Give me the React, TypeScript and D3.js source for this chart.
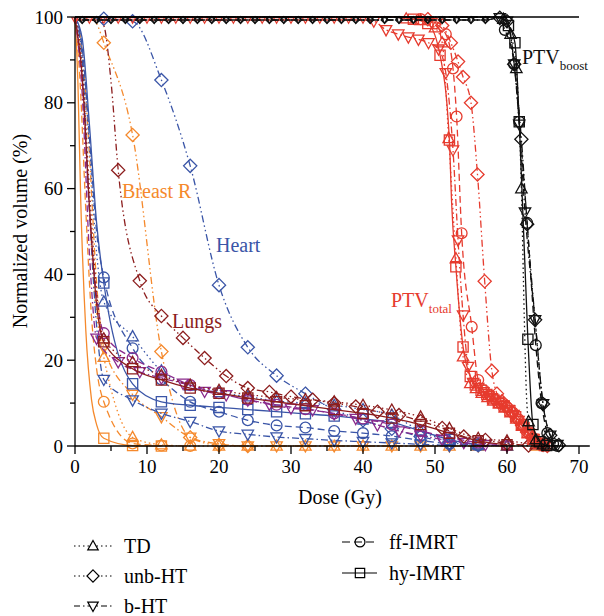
import React from "react";
import * as d3 from "d3";

type P = [number, number];

// ---------- axes ----------
const xTicks = [0, 10, 20, 30, 40, 50, 60, 70];
const xMinor = [5, 15, 25, 35, 45, 55, 65];
const yTicks = [0, 20, 40, 60, 80, 100];
const yMinor = [10, 30, 50, 70, 90];

// ---------- plateau marker doses (PTV curves near 100 %) ----------
const ptvTotalPlateau = [0, 2, 4, 6, 8, 10, 12, 14, 16, 18, 20, 22, 24, 26, 28, 30, 32, 34, 36, 38, 40];
const ptvBoostPlateau = [1, 3, 5, 7, 9, 11, 13, 15, 17, 19, 21, 23, 25, 27, 29, 31, 33, 35, 37, 39, 41, 43, 45, 47, 49, 51, 53, 55, 57];
const plateauVolume = 99.3;

// ---------- Breast R (orange) ----------
const breastTDLine: P[] = [[0, 100], [1, 88], [1.8, 62], [2.6, 38], [3.3, 27]];
const breastTDMarks: P[] = [[4, 20.7], [8, 2], [12, 0.3], [16, 0], [20, 0], [24, 0], [28, 0], [32, 0], [36, 0], [40, 0], [44, 0], [48, 0], [52, 0], [56, 0], [60, 0], [64, 0]];
const breastUnbLine: P[] = [[0, 100], [2, 100], [3, 98.5]];
const breastUnbMarks: P[] = [[4, 94], [8, 72.5], [12, 22], [16, 2], [20, 0.2], [24, 0]];
const breastBLine: P[] = [[0, 100], [1, 92], [2, 68], [3, 38]];
const breastBMarks: P[] = [[4, 23], [8, 12], [12, 6.8], [16, 2], [20, 0.5], [24, 0], [28, 0], [32, 0], [36, 0], [40, 0], [44, 0], [48, 0], [52, 0], [56, 0], [60, 0]];
const breastFFLine: P[] = [[0, 100], [0.7, 85], [1.5, 55], [2.3, 30], [3, 18]];
const breastFFMarks: P[] = [[4, 10.3], [8, 0.6], [12, 0.1], [16, 0]];
const breastHyLine: P[] = [[0, 100], [0.4, 85], [0.8, 57], [1.5, 27], [2.3, 10.7], [3, 5]];
const breastHyMarks: P[] = [[4, 1.8], [8, 0.1], [12, 0]];

// ---------- Heart (blue) ----------
const heartTDLine: P[] = [[0, 100], [1, 92], [2, 70], [3, 45]];
const heartTDMarks: P[] = [[4, 33.6], [8, 25.5], [12, 17.5], [16, 14], [20, 12.5], [24, 11.5], [28, 10.5], [32, 10], [36, 9.5], [40, 8.5], [44, 7.2], [48, 3.5], [52, 1.2], [56, 0.3], [60, 0]];
const heartUnbLine: P[] = [[0, 100], [2, 100]];
const heartUnbMarks: P[] = [[4, 99.6], [8, 99], [12, 85.3], [16, 65.3], [20, 37.5], [24, 23], [28, 16.4], [32, 12.2], [36, 8.5], [40, 6], [44, 4], [48, 2.2], [52, 0.8], [56, 0.2]];
const heartBLine: P[] = [[0, 100], [1, 90], [2, 55], [3, 28]];
const heartBMarks: P[] = [[4, 15.5], [8, 10.7], [12, 7.6], [16, 5.7], [20, 3.5], [24, 2.7], [28, 2.1], [32, 1.7], [36, 1.3], [40, 1], [44, 0.7], [48, 0.4], [52, 0.1]];
const heartFFLine: P[] = [[0, 100], [1, 93], [2, 72], [3, 50]];
const heartFFMarks: P[] = [[4, 39.3], [8, 22.8], [12, 15.5], [16, 10.3], [20, 8], [24, 6], [28, 4.8], [32, 4.3], [36, 3.5], [40, 3], [44, 2.3], [48, 1.3], [52, 0.5], [56, 0.1]];
const heartHyLine: P[] = [[0, 100], [1, 95], [2, 75], [3, 52]];
const heartHyMarks: P[] = [[4, 38], [8, 14.5], [12, 10.3], [16, 9.5], [20, 9], [24, 8.5], [28, 8], [32, 7.5], [36, 7], [40, 6.3], [44, 5.5], [48, 3.5], [52, 1.5], [56, 0.3]];

// ---------- Lungs (dark red) ----------
const lungTDLine: P[] = [[0, 100], [1, 88], [2, 60], [3, 36]];
const lungTDMarks: P[] = [[4, 25], [8, 19.5], [12, 16.5], [16, 14.2], [20, 13], [24, 12], [28, 11.3], [32, 10.8], [36, 10.3], [40, 9.5], [44, 8.4], [48, 6.8], [52, 4.1], [56, 1.8], [60, 1.2], [64, 0.3]];
const lungUnbLine: P[] = [[0, 100], [3, 100], [4, 98], [5, 85]];
const lungUnbMarks: P[] = [[6, 64.3], [9, 38.5], [12, 30.3], [15, 25.2], [18, 20.5], [21, 16.3], [24, 13.5], [27, 12.6], [30, 11.5], [33, 10.8], [36, 10], [39, 9.2], [42, 8], [45, 7.2], [48, 5.8], [51, 4.2], [54, 2.2], [57, 1.4], [60, 0.6], [63, 0.1]];
const lungHyLine: P[] = [[0, 100], [1, 86], [2, 56], [3, 33]];
const lungHyMarks: P[] = [[4, 24.3], [8, 18], [12, 15.4], [16, 13.5], [20, 12.3], [24, 11.2], [28, 10.3], [32, 9.4], [36, 8.5], [40, 7.6], [44, 6.5], [48, 5], [52, 3], [56, 1.2], [60, 0.3]];

// ---------- Lungs, second set (purple) ----------
const lung2BLine: P[] = [[0, 100], [1, 82], [2, 45]];
const lung2BMarks: P[] = [[3, 25.1], [6, 19.6], [9, 17.3], [12, 15.8], [15, 14.6], [18, 12.7], [21, 11.9], [24, 10.7], [27, 9.7], [30, 8.8], [33, 8.4], [36, 7.5], [39, 6.4], [42, 4.9], [45, 3.5], [48, 2.5], [51, 1.5], [54, 0.8], [57, 0.3], [60, 0]];
const lung2FFLine: P[] = [[0, 100], [1, 85], [2, 55], [3, 35]];
const lung2FFMarks: P[] = [[4, 26.3], [8, 20.5], [12, 17.3], [16, 14.2], [20, 12.3], [24, 10.8], [28, 9.6], [32, 8.6], [36, 7.6], [40, 6.4], [44, 5], [48, 3.5], [52, 2], [56, 0.8], [60, 0.2]];

// ---------- PTV total (red) ----------
const ptvTTDLine: P[] = [[0, 100], [44, 100]];
const ptvTTDMarks: P[] = [[46, 99.6], [48, 99.2], [50, 97.5], [51, 94], [51.9, 71.7], [52.9, 43.7], [53.9, 20.8], [54.9, 14.6], [55.7, 13.4], [56.5, 12.3], [57.3, 11.3], [58.1, 10.5], [58.9, 9.8], [59.7, 8.9], [60.5, 7.8], [61.3, 6.3], [62.1, 4.6], [62.9, 2.9], [63.7, 1.5], [64.5, 0.5], [65.3, 0.1]];
const ptvTUnbLine: P[] = [[0, 100], [46, 100]];
const ptvTUnbMarks: P[] = [[49, 99.5], [51, 98], [52.2, 94], [53.2, 89.6], [53.9, 86], [55, 80], [55.9, 63.3], [56.9, 38.4], [57.9, 17.5], [58.6, 12.2], [59.3, 10.4], [60, 9.2], [60.7, 7.8], [61.4, 6.3], [62.1, 4.8], [62.8, 3.2], [63.5, 1.9], [64.2, 0.9], [64.9, 0.3], [65.6, 0]];
const ptvTBLine: P[] = [];
const ptvTBMarks: P[] = [[41.5, 99], [43.2, 97], [44.9, 96], [46.3, 95.3], [47.7, 94.8], [49.1, 94], [50.5, 92.5], [51.5, 87], [52.5, 69], [53.2, 48], [53.9, 30.5], [54.6, 18.5], [55.3, 14.8], [56, 13.6], [56.7, 12.6], [57.4, 11.7], [58.1, 10.9], [58.8, 10.1], [59.5, 9.4], [60.2, 8.5], [60.9, 7.3], [61.6, 5.9], [62.3, 4.4], [63, 3], [63.7, 1.7], [64.4, 0.7], [65.1, 0.2]];
const ptvTFFLine: P[] = [[0, 100], [44, 100]];
const ptvTFFMarks: P[] = [[48, 99.5], [50, 98.5], [51.5, 96], [52.5, 88], [53, 76.8], [53.7, 49.6], [55.1, 27.8], [56, 15.4], [56.8, 13], [57.6, 11.8], [58.4, 10.8], [59.2, 9.9], [60, 9], [60.8, 7.8], [61.6, 6.2], [62.4, 4.4], [63.2, 2.8], [64, 1.4], [64.8, 0.5], [65.6, 0.1]];
const ptvTHyLine: P[] = [[0, 100], [44, 100], [52.3, 57]];
const ptvTHyMarks: P[] = [[47, 99.5], [49, 98.5], [50.7, 91.1], [52, 71.3], [52.9, 41.8], [53.9, 23.1], [54.9, 16.2], [55.6, 14.2], [56.4, 13], [57.2, 12], [58, 11], [58.8, 10.2], [59.6, 9.3], [60.4, 8.2], [61.2, 6.8], [62, 5], [62.8, 3.2], [63.6, 1.6], [64.4, 0.6], [65.2, 0.1]];

// ---------- PTV boost (black) ----------
const ptvBTDLine: P[] = [[0, 100], [58, 100], [62.4, 30], [62.7, 12]];
const ptvBTDMarks: P[] = [[59.5, 99.5], [60.5, 96], [61.3, 88], [62, 60], [63, 5.7], [64, 1.5], [65, 0.3], [66, 0]];
const ptvBUnbLine: P[] = [];
const ptvBUnbMarks: P[] = [[59, 99.8], [60, 99], [61, 89], [62, 71.5], [62.8, 51.7], [63.9, 29.4], [65, 9.8], [66, 2.5], [67.2, 0.2]];
const ptvBBLine: P[] = [];
const ptvBBMarks: P[] = [[59, 99.8], [60, 99], [61, 89], [61.7, 75], [62.5, 54.5], [63.9, 29.4], [65, 9.8], [66, 2.5], [67, 0.3]];
const ptvBFFLine: P[] = [[0, 100], [58.5, 100]];
const ptvBFFMarks: P[] = [[59.7, 97], [61, 89], [61.7, 75.6], [62.8, 52], [64, 23.5], [64.8, 10], [65.6, 3], [66.4, 0.5], [67, 0]];
const ptvBHyLine: P[] = [[0, 100], [59, 100]];
const ptvBHyMarks: P[] = [[60.2, 98], [61.1, 94], [61.7, 75.6], [62.9, 24.9], [63.6, 5], [64.5, 1], [65.5, 0.1]];

// ---------- styles ----------
type Tech = "TD" | "unb" | "b" | "ff" | "hy";
const techStyle: Record<Tech, { dash: string | undefined; legendDash: string | undefined; shape: string; name: string }> = {
  TD: { dash: "1.5,3", legendDash: "1.5,3", shape: "tri", name: "TD" },
  unb: { dash: "7,3,1.5,3,1.5,3", legendDash: "1.5,3", shape: "diamond", name: "unb-HT" },
  b: { dash: "7,3,1.5,3", legendDash: "6,3,1.5,3", shape: "triDown", name: "b-HT" },
  ff: { dash: "7,4", legendDash: "8,4", shape: "circle", name: "ff-IMRT" },
  hy: { dash: undefined, legendDash: undefined, shape: "square", name: "hy-IMRT" },
};

const ORANGE = "#F5892C";
const BLUE = "#3A55A7";
const DARKRED = "#8C1D1D";
const PURPLE = "#8A2A8C";
const RED = "#E63B2E";
const BLACK = "#111111";

interface Series { color: string; tech: Tech; line: P[]; marks: P[]; top?: P[] }

const plateau = (ds: number[]): P[] => ds.map((d) => [d, plateauVolume] as P);

const series: Series[] = [
  { color: ORANGE, tech: "TD", line: breastTDLine, marks: breastTDMarks },
  { color: ORANGE, tech: "unb", line: breastUnbLine, marks: breastUnbMarks },
  { color: ORANGE, tech: "b", line: breastBLine, marks: breastBMarks },
  { color: ORANGE, tech: "ff", line: breastFFLine, marks: breastFFMarks },
  { color: ORANGE, tech: "hy", line: breastHyLine, marks: breastHyMarks },
  { color: BLUE, tech: "TD", line: heartTDLine, marks: heartTDMarks },
  { color: BLUE, tech: "unb", line: heartUnbLine, marks: heartUnbMarks },
  { color: BLUE, tech: "b", line: heartBLine, marks: heartBMarks },
  { color: BLUE, tech: "ff", line: heartFFLine, marks: heartFFMarks },
  { color: BLUE, tech: "hy", line: heartHyLine, marks: heartHyMarks },
  { color: PURPLE, tech: "b", line: lung2BLine, marks: lung2BMarks },
  { color: PURPLE, tech: "ff", line: lung2FFLine, marks: lung2FFMarks },
  { color: DARKRED, tech: "TD", line: lungTDLine, marks: lungTDMarks },
  { color: DARKRED, tech: "unb", line: lungUnbLine, marks: lungUnbMarks },
  { color: DARKRED, tech: "hy", line: lungHyLine, marks: lungHyMarks },
  { color: RED, tech: "TD", line: ptvTTDLine, marks: ptvTTDMarks },
  { color: RED, tech: "unb", line: ptvTUnbLine, marks: ptvTUnbMarks },
  { color: RED, tech: "b", line: ptvTBLine, marks: ptvTBMarks, top: plateau(ptvTotalPlateau) },
  { color: RED, tech: "ff", line: ptvTFFLine, marks: ptvTFFMarks },
  { color: RED, tech: "hy", line: ptvTHyLine, marks: ptvTHyMarks },
  { color: BLACK, tech: "TD", line: ptvBTDLine, marks: ptvBTDMarks },
  { color: BLACK, tech: "unb", line: ptvBUnbLine, marks: ptvBUnbMarks, top: plateau(ptvBoostPlateau) },
  { color: BLACK, tech: "b", line: ptvBBLine, marks: ptvBBMarks, top: plateau(ptvBoostPlateau) },
  { color: BLACK, tech: "ff", line: ptvBFFLine, marks: ptvBFFMarks },
  { color: BLACK, tech: "hy", line: ptvBHyLine, marks: ptvBHyMarks },
];

const legendLeft: Tech[] = ["TD", "unb", "b"];
const legendRight: Tech[] = ["ff", "hy"];

// ---------- layout ----------
const W = 604;
const H = 616;
const X0 = 75;
const PXPERGY = 7.2;
const XMAX = 71.5;
const Y0 = 446;
const Y100 = 17;
const FONT = "'Liberation Serif', 'Times New Roman', serif";

function shapePath(shape: string, s: number): string {
  switch (shape) {
    case "tri":
      return `M0,${-s}L${s * 0.95},${s * 0.7}L${-s * 0.95},${s * 0.7}Z`;
    case "triDown":
      return `M0,${s}L${s * 0.95},${-s * 0.7}L${-s * 0.95},${-s * 0.7}Z`;
    case "diamond":
      return `M0,${-s * 1.1}L${s * 1.1},0L0,${s * 1.1}L${-s * 1.1},0Z`;
    case "square":
      return `M${-s * 0.85},${-s * 0.85}H${s * 0.85}V${s * 0.85}H${-s * 0.85}Z`;
    default:
      return d3.arc()({ innerRadius: 0, outerRadius: s * 0.9, startAngle: 0, endAngle: 2 * Math.PI }) || "";
  }
}

export default function App() {
  const x = d3.scaleLinear().domain([0, XMAX]).range([X0, X0 + XMAX * PXPERGY]);
  const y = d3.scaleLinear().domain([0, 100]).range([Y0, Y100]);
  const lineGen = d3
    .line<P>()
    .x((d) => x(d[0]))
    .y((d) => y(d[1]))
    .curve(d3.curveMonotoneX);

  const xEnd = x(XMAX);

  return (
    <svg width={W} height={H} style={{ display: "block", position: "absolute", left: 0, top: 0 }} fontFamily={FONT}>
      <rect width={W} height={H} fill="#fff" />
      {/* curves */}
      {series.map((s, i) => {
        const st = techStyle[s.tech];
        const top = s.top || [];
        const pts = [...s.line, ...top, ...s.marks].slice().sort((a, b) => a[0] - b[0]);
        return (
          <g key={i}>
            <path d={lineGen(pts) || ""} fill="none" stroke={s.color} strokeWidth={1.3} strokeDasharray={st.dash} />
            {top.map((m, j) => (
              <path
                key={"t" + j}
                transform={`translate(${x(m[0])},${y(m[1])})`}
                d={shapePath(st.shape, 3.2)}
                fill="none"
                stroke={s.color}
                strokeWidth={1.2}
              />
            ))}
            {s.marks.map((m, j) => (
              <path
                key={j}
                transform={`translate(${x(m[0])},${y(m[1])})`}
                d={shapePath(st.shape, 6)}
                fill="none"
                stroke={s.color}
                strokeWidth={1.3}
              />
            ))}
          </g>
        );
      })}
      {/* axes */}
      <line x1={X0} x2={X0} y1={Y100} y2={Y0} stroke="#000" strokeWidth={1.3} />
      <line x1={X0} x2={xEnd} y1={Y0} y2={Y0} stroke="#000" strokeWidth={1.3} />
      <line x1={X0} x2={x(70)} y1={Y100} y2={Y100} stroke="#000" strokeWidth={1.3} />
      {xTicks.map((t) => (
        <g key={"xt" + t}>
          <line x1={x(t)} x2={x(t)} y1={Y0} y2={Y0 + 8} stroke="#000" strokeWidth={1.3} />
          <text x={x(t)} y={Y0 + 27} textAnchor="middle" fontSize={19}>
            {t}
          </text>
        </g>
      ))}
      {xMinor.map((t) => (
        <line key={"xm" + t} x1={x(t)} x2={x(t)} y1={Y0} y2={Y0 + 5} stroke="#000" strokeWidth={1.3} />
      ))}
      {yTicks.map((t) => (
        <g key={"yt" + t}>
          <line x1={X0 - 8} x2={X0} y1={y(t)} y2={y(t)} stroke="#000" strokeWidth={1.3} />
          <text x={X0 - 12} y={y(t) + 6.5} textAnchor="end" fontSize={19}>
            {t}
          </text>
        </g>
      ))}
      {yMinor.map((t) => (
        <line key={"ym" + t} x1={X0 - 5} x2={X0} y1={y(t)} y2={y(t)} stroke="#000" strokeWidth={1.3} />
      ))}
      <text x={340} y={504} textAnchor="middle" fontSize={20}>
        Dose (Gy)
      </text>
      <text transform={`translate(27,231) rotate(-90)`} textAnchor="middle" fontSize={20}>
        Normalized volume (%)
      </text>

      {/* structure labels */}
      <text x={122} y={198} fontSize={20} fill={ORANGE}>Breast R</text>
      <text x={216} y={252} fontSize={20} fill={BLUE}>Heart</text>
      <text x={172} y={328} fontSize={20} fill={DARKRED}>Lungs</text>
      <text x={391} y={307} fontSize={20} fill={RED}>
        PTV<tspan fontSize={13} dy={6}>total</tspan>
      </text>
      <text x={522} y={64} fontSize={20} fill={BLACK}>
        PTV<tspan fontSize={13} dy={6}>boost</tspan>
      </text>

      {/* legend */}
      {legendLeft.map((t, i) => {
        const st = techStyle[t];
        const cy = 546 + i * 30;
        return (
          <g key={"ll" + t}>
            <line x1={74} x2={112} y1={cy} y2={cy} stroke="#000" strokeWidth={1.2} strokeDasharray={st.legendDash} />
            <path transform={`translate(93,${cy})`} d={shapePath(st.shape, 5.5)} fill="#fff" stroke="#000" strokeWidth={1.2} />
            <text x={124} y={cy + 7} fontSize={20}>{st.name}</text>
          </g>
        );
      })}
      {legendRight.map((t, i) => {
        const st = techStyle[t];
        const cy = 542 + i * 31;
        return (
          <g key={"lr" + t}>
            <line x1={342} x2={377} y1={cy} y2={cy} stroke="#000" strokeWidth={1.2} strokeDasharray={st.legendDash} />
            <path transform={`translate(360,${cy})`} d={shapePath(st.shape, 5.5)} fill="none" stroke="#000" strokeWidth={1.2} />
            <text x={389} y={cy + 7} fontSize={20}>{st.name}</text>
          </g>
        );
      })}
    </svg>
  );
}
